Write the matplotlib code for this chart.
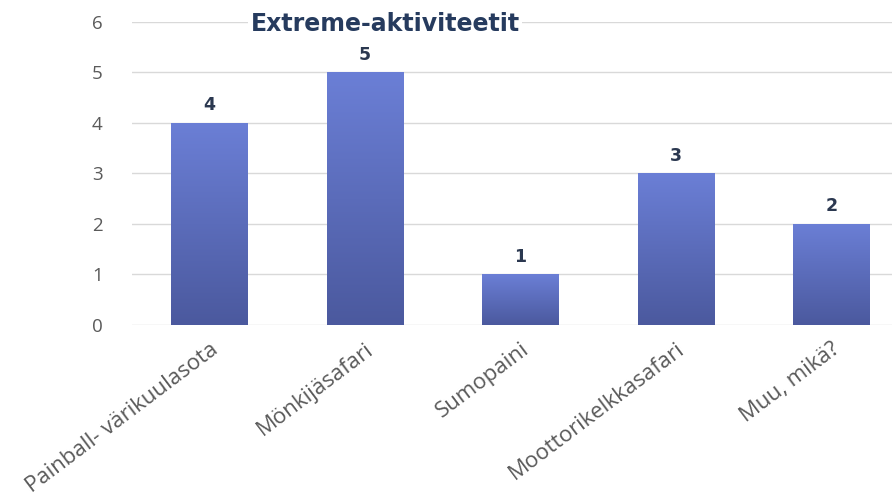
import matplotlib.pyplot as plt
import numpy as np
from matplotlib.colors import LinearSegmentedColormap

categories = ["Painball- värikuulasota", "Mönkijäsafari", "Sumopaini",
              "Moottorikelkkasafari", "Muu, mikä?"]
counts = [4, 5, 1, 3, 2]
yticks = [0, 1, 2, 3, 4, 5, 6]

plt.rcParams['font.family'] = ['Open Sans', 'DejaVu Sans']

fig = plt.figure(figsize=(8.92, 4.99), dpi=100)
ax = fig.add_axes([0.1477, 0.3487, 0.8523, 0.6073])

x = np.arange(len(categories))
bars = ax.bar(x, counts, width=0.49, color='none', zorder=2)

# vertical gradient inside each bar, lighter at the top
grad = LinearSegmentedColormap.from_list('barblue', ['#4b599e', '#6b7fd6'])
ramp = np.linspace(0, 1, 256).reshape(-1, 1)
for b in bars:
    x0, y0 = b.get_x(), b.get_y()
    w, h = b.get_width(), b.get_height()
    im = ax.imshow(ramp, cmap=grad, origin='lower', aspect='auto',
                   extent=(x0, x0 + w, y0, y0 + h), zorder=2)
    im.set_clip_path(b)
    ax.text(x0 + w / 2, h + 0.17, str(int(h)), ha='center', va='bottom',
            fontsize=12.5, fontweight='bold', color='#2b3850',
            family='DejaVu Sans')

ax.set_xlim(-0.5, 4.39)
ax.set_ylim(0, 6)
ax.set_yticks(yticks)
ax.set_xticks(x)
ax.set_xticklabels(categories, rotation=37, ha='right', rotation_mode='anchor',
                   fontsize=16)
ax.tick_params(axis='both', length=0, labelcolor='#5a5a5a')
ax.tick_params(axis='y', labelsize=13.5, pad=21)
ax.tick_params(axis='x', pad=10)
ax.grid(axis='y', color='#d9d9d9', linewidth=1, zorder=0)
ax.set_axisbelow(True)
for s in ax.spines.values():
    s.set_visible(False)

# title sits on the top gridline, with a white box behind it
fig.text(0.4316, 0.952, 'Extreme-aktiviteetit', ha='center', va='center',
         fontsize=17, fontweight='bold', color='#263b5e', family='DejaVu Sans',
         bbox=dict(facecolor='white', edgecolor='none', pad=2))

fig.savefig('out.png', dpi=100)
